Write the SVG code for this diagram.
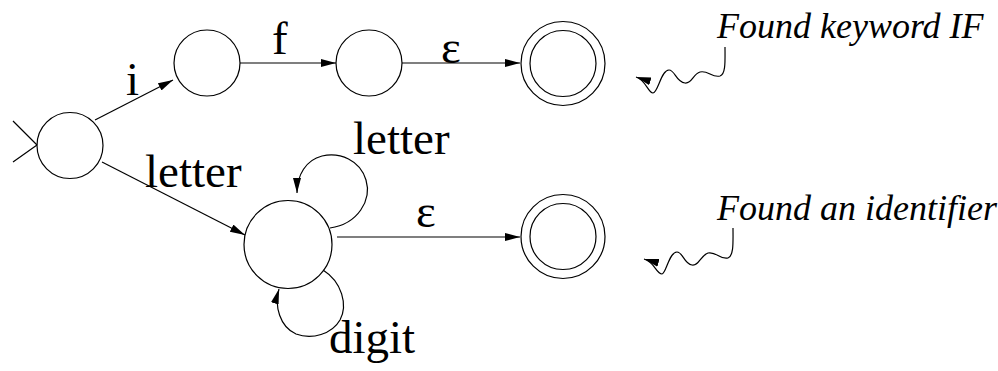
<svg xmlns="http://www.w3.org/2000/svg" width="998" height="371" viewBox="0 0 998 371">
<defs>
<marker id="ah" markerUnits="userSpaceOnUse" markerWidth="16" markerHeight="10" refX="15" refY="4" orient="auto">
<path d="M0,0 L15,4 L0,8 z" fill="#000"/>
</marker>
</defs>
<rect width="998" height="371" fill="#fff"/>
<g id="connectors" fill="none" stroke="#000" stroke-width="1.2">
<path d="M13,121 L37,145 M13,162 L37,145"/>
<path d="M95,120 L173,80" marker-end="url(#ah)"/>
<path d="M240,63 L336,63" marker-end="url(#ah)"/>
<path d="M402,63 L520,63" marker-end="url(#ah)"/>
<path d="M102,162 L245,235" marker-end="url(#ah)"/>
<path d="M330,228 C358,224 372,200 366,180 C360,160 340,152 322,156 C306,160 297,175 297,193" marker-end="url(#ah)"/>
<path d="M323,270 C342,282 348,305 340,320 C332,334 312,340 296,334 C280,327 274,306 279,289" marker-end="url(#ah)"/>
<path d="M337,237 L520,237" marker-end="url(#ah)"/>
<path d="M725,47 C725,60 726,74 720,76 C712,78 708,70 700,72 C693,74 692,84 685,83 C676,82 675,70 669,70 C661,70 658,93 653,93 C648,93 646,80 636,77" marker-end="url(#ah)"/>
<path d="M733,228 C733,241 734,256 728,258 C720,260 716,251 708,253 C700,256 699,266 692,265 C684,264 683,252 677,252 C669,252 666,274 662,274 C656,274 655,262 644,259" marker-end="url(#ah)"/>
</g>
<g fill="none" stroke="#000" stroke-width="1.2">
<g id="start"><circle cx="70" cy="145.5" r="33"/></g>
<g id="q1"><circle cx="207" cy="63" r="33"/></g>
<g id="q2"><circle cx="369" cy="63" r="33"/></g>
<g id="acceptIF"><circle cx="563" cy="63.5" r="42"/><circle cx="563" cy="63.5" r="33"/></g>
<g id="q4"><circle cx="288" cy="244.5" r="44"/></g>
<g id="acceptId"><circle cx="563" cy="236.5" r="42"/><circle cx="563" cy="236.5" r="33"/></g>
</g>
<g id="labels" font-family="Liberation Serif" font-size="47" fill="#000">
<text x="126" y="95">i</text>
<text x="272" y="54">f</text>
<text x="441" y="63">&#x3B5;</text>
<text x="145" y="187">letter</text>
<text x="353" y="154">letter</text>
<text x="416" y="227">&#x3B5;</text>
<text x="329" y="353">digit</text>
</g>
<g id="notes" font-family="Liberation Serif" font-size="36" font-style="italic" fill="#000">
<text x="717" y="38">Found keyword IF</text>
<text x="717" y="220">Found an identifier</text>
</g>
</svg>
